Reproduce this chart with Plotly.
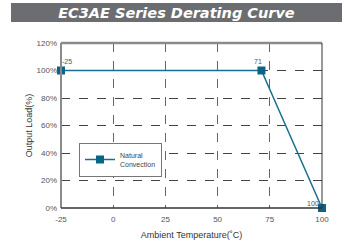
import plotly.graph_objects as go

temps = [-25, 71, 100]
loads = [100, 100, 0]
point_labels = ["-25", "71", "100"]
x_ticks = [-25, 0, 25, 50, 75, 100]
y_ticks = [0, 20, 40, 60, 80, 100, 120]
y_tick_text = [f"{v}%" for v in y_ticks]
series_name = "Natural<br>Convection"
title_text = "EC3AE Series Derating Curve"

line_color = "#1a6f91"
marker_color = "#0b6486"

fig = go.Figure()
fig.add_trace(go.Scatter(
    x=temps, y=loads, mode="lines+markers", name=series_name,
    line=dict(color=line_color, width=1.5),
    marker=dict(symbol="square", size=8, color=marker_color),
    cliponaxis=False,
))

offsets = [(6, 9), (-3, 9), (-9, 5)]
for xv, yv, t, (dx, dy) in zip(temps, loads, point_labels, offsets):
    fig.add_annotation(x=xv, y=yv, text=t, showarrow=False, xshift=dx, yshift=dy,
                       font=dict(size=7, color="#555", family="Liberation Sans"))

# Title banner (annotation box)
fig.add_annotation(xref="paper", yref="paper", x=0.442, y=1.183, text=title_text, showarrow=False,
                   xanchor="center", yanchor="middle", width=329, height=17,
                   bgcolor="#6c6d70", borderpad=1, borderwidth=0,
                   font=dict(size=14.5, color="white", family="DejaVu Sans", weight="bold", style="italic"))

# Plot borders
fig.add_shape(type="line", xref="paper", yref="paper", x0=0, x1=1, y0=1, y1=1, line=dict(color="#8a8a8a", width=2.5))
fig.add_shape(type="line", xref="paper", yref="paper", x0=0, x1=0, y0=0, y1=1, line=dict(color="#8a8a8a", width=2))
fig.add_shape(type="line", xref="paper", yref="paper", x0=0, x1=1, y0=0, y1=0, line=dict(color="#333", width=1.5))
fig.add_shape(type="line", xref="paper", yref="paper", x0=1, x1=1, y0=0, y1=1, line=dict(color="#333", width=1))

fig.update_layout(
    width=349, height=250,
    margin=dict(l=61, r=27, t=43, b=40),
    paper_bgcolor="white", plot_bgcolor="white",
    showlegend=True,
    legend=dict(x=0.069, y=0.395, xanchor="left", yanchor="top",
                bgcolor="white", bordercolor="#777", borderwidth=1,
                font=dict(size=7, color="#444", family="Liberation Sans"),
                itemwidth=30, tracegroupgap=0),
    xaxis=dict(range=[-25, 100], tickvals=x_ticks, ticktext=[str(v) for v in x_ticks],
               showgrid=True, gridcolor="#666", griddash="dash", gridwidth=1,
               zeroline=False, showline=False, ticks="", ticklabelstandoff=5,
               tickfont=dict(size=8, color="#555", family="Liberation Sans"),
               title=dict(text="Ambient Temperature(˚C)", font=dict(size=9, color="#333", family="Liberation Sans"), standoff=8)),
    yaxis=dict(range=[0, 120], tickvals=y_ticks, ticktext=y_tick_text,
               showgrid=True, gridcolor="#444", griddash="dash", gridwidth=1,
               zeroline=False, showline=False, ticks="", ticklabelstandoff=3,
               tickfont=dict(size=8, color="#555", family="Liberation Sans"),
               title=dict(text="Output Load(%)", font=dict(size=9, color="#333", family="Liberation Sans"), standoff=2)),
)

fig.write_html("out.html", config={"displayModeBar": False},
               post_script="document.body.style.margin='0';document.body.style.padding='0';")
